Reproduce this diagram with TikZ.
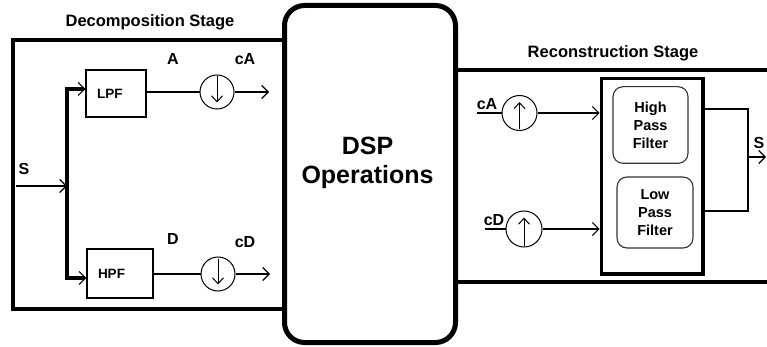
\documentclass[tikz,border=0pt]{standalone}
\usepackage{fontspec}
\setmainfont{Liberation Sans}
\usetikzlibrary{arrows.meta,calc}
\begin{document}
\begin{tikzpicture}[x=1pt,y=-1pt,
  thinln/.style={line width=1.2pt},
  stageln/.style={line width=3.6pt},
  busln/.style={line width=3.4pt},
  tip/.style={-{Straight Barb[length=6.5pt,width=13pt,line width=1.1pt]}},
  intip/.style={-{Straight Barb[length=6pt,width=11pt,line width=1pt]}},
  filt/.style={draw,line width=1.2pt,align=left,inner xsep=11pt,inner ysep=0pt,
    font=\bfseries\fontsize{13.5}{15}\selectfont},
  rfilt/.style={draw=black!80,line width=1.1pt,rounded corners=10pt,align=center,
    inner sep=0pt,font=\bfseries\fontsize{14.5}{18}\selectfont},
  samp/.style={circle,draw,line width=1pt,inner sep=0pt},
  lab/.style={font=\bfseries\fontsize{16}{18}\selectfont,inner sep=0pt},
  ttl/.style={font=\bfseries\fontsize{16.5}{18}\selectfont,inner sep=0pt}]
\useasboundingbox (0,0) rectangle (767,347);

% DSP block
\node[draw,line width=5pt,rounded corners=20pt,minimum width=171pt,minimum height=337pt,inner sep=0pt] (dsp) at (370,174) {};
\node[align=center,inner sep=0pt,font=\bfseries\fontsize{25}{29}\selectfont] (dsptxt) at (367.5,163) {DSP\\Operations};

% Stage frames
\coordinate (d1) at (13,40);
\coordinate (d2) at (13,309);
\draw[stageln] (dsp.west |- d1) -- (d1) -- (d2) -- (dsp.west |- d2);
\coordinate (r1) at (775,70);
\coordinate (r2) at (775,282);
\draw[stageln] (dsp.east |- r1) -- (r1);
\draw[stageln] (dsp.east |- r2) -- (r2);
\node[ttl] (t1) at (150,22) {Decomposition Stage};
\node[ttl] (t2) at (613,53) {Reconstruction Stage};

% Decomposition
\node[filt,text width=38pt,minimum height=47pt] (lpf) at (116,93.5) {LPF};
\node[filt,text width=44pt,minimum height=49pt] (hpf) at (120,273.5) {HPF};
\node[samp,minimum size=34pt] (dn1) at (217,92) {};
\node[samp,minimum size=34pt] (dn2) at (218,274) {};
\coordinate (sin) at (16,186);
\coordinate (sj) at (67,186);
\coordinate (oA) at (269,92);
\coordinate (oD) at (270,274);
\draw[thinln,tip] (sin) -- (sj);
\draw[busln,-{Straight Barb[length=6.5pt,width=13pt,line width=1.1pt]}] (sj) |- ([yshift=4.5pt]lpf.west);
\draw[busln,-{Straight Barb[length=6.5pt,width=13pt,line width=1.1pt]}] (sj) |- ([yshift=-4.5pt]hpf.west);
\draw[thinln] (dn1.west -| lpf.east) -- (dn1.west);
\draw[thinln] (dn2.west -| hpf.east) -- (dn2.west);
\draw[thinln,tip] (dn1.east) -- (oA);
\draw[thinln,tip] (dn2.east) -- (oD);
\draw[line width=1pt,intip] ([yshift=-2pt]dn1.north) -- ([yshift=7pt]dn1.south);
\draw[line width=1pt,intip] ([yshift=-2pt]dn2.north) -- ([yshift=7pt]dn2.south);
\node[lab] (lS) at (24,169) {S};
\node[lab] (lA) at (173,59) {A};
\node[lab] (lcA) at (245,59) {cA};
\node[lab] (lD) at (173,239) {D};
\node[lab] (lcD) at (245,242) {cD};

% Reconstruction
\node[draw,line width=3.6pt,minimum width=101.5pt,minimum height=195.5pt,inner sep=0pt] (rec) at (652.25,176.25) {};
\node[rfilt,minimum width=75pt,minimum height=76.6pt] (hpf2) at (650.5,125) {High\\Pass\\Filter};
\node[rfilt,minimum width=76pt,minimum height=71pt] (lpf2) at (655,212.5) {Low\\Pass\\Filter};
\node[samp,minimum size=35pt] (up1) at (519.5,113) {};
\node[samp,minimum size=36pt] (up2) at (524,229) {};
\draw[line width=1pt,intip] ([yshift=2pt]up1.south) -- ([yshift=-7pt]up1.north);
\draw[line width=1pt,intip] ([yshift=2pt]up2.south) -- ([yshift=-7pt]up2.north);
\coordinate (iA) at (477,113);
\coordinate (iD) at (485,229);
\draw[thinln] (iA) -- (up1.west);
\draw[thinln] (iD) -- (up2.west);
\node[lab] (lcA2) at (487,104) {cA};
\node[lab] (lcD2) at (494,220) {cD};
\draw[thinln,tip] (up1.east) -- (up1.east -| rec.west);
\draw[thinln,tip] (up2.east) -- (up2.east -| rec.west);
\coordinate (o1) at (703,109);
\coordinate (o2) at (703,211);
\coordinate (oj) at (748,157);
\coordinate (oS) at (766,157);
\draw[thinln] (o1) -| (oj) |- (o2);
\draw[thinln,tip] (oj) -- (oS);
\node[lab] (lS2) at (759,143) {S};
\end{tikzpicture}
\end{document}
